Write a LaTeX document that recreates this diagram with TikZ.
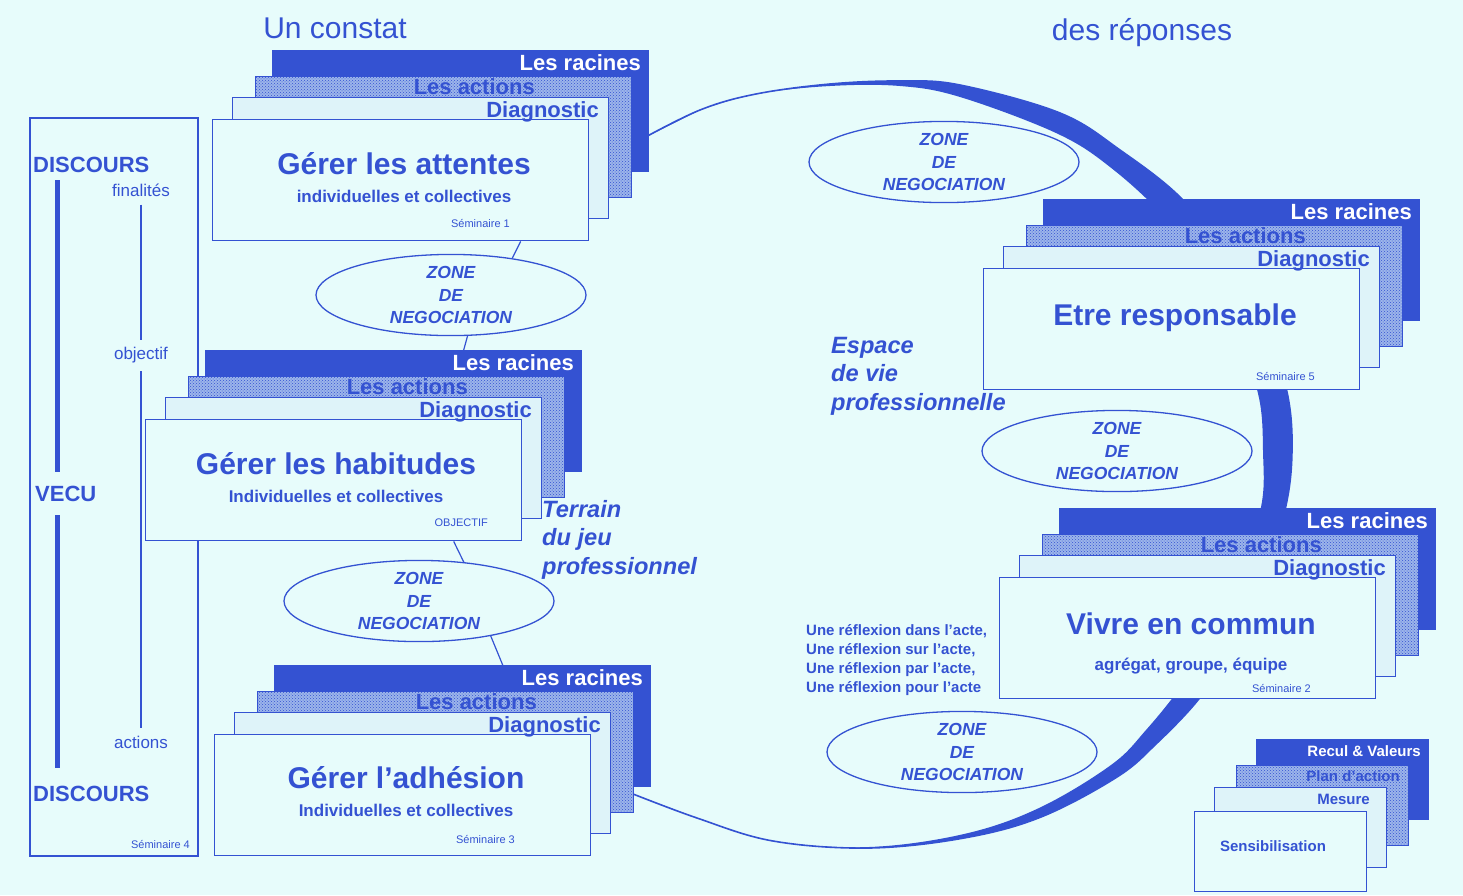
\documentclass[tikz,border=0pt]{standalone}
\usepackage{fontspec}
\setmainfont{Liberation Sans}
\usetikzlibrary{shapes.geometric,patterns}

\definecolor{bleu}{RGB}{52,82,210}
\definecolor{fond}{RGB}{231,252,251}

\begin{document}
\begin{tikzpicture}[x=1pt, y=-1pt,
    every node/.style={text=bleu, inner sep=0pt},
    couche/.style={draw=bleu, line width=1.4pt, anchor=north west, minimum width=376pt, minimum height=121pt},
    petite/.style={minimum width=172pt, minimum height=80pt},
    racine/.style={couche, fill=bleu},
    action/.style={couche, preaction={fill=bleu!42!fond}, pattern=crosshatch dots, pattern color=bleu},
    diag/.style={couche, fill=bleu!5!fond},
    cadre/.style={couche, fill=fond},
    zone/.style={ellipse, draw=bleu, line width=1.3pt, fill=fond, minimum width=270pt, minimum height=76pt, align=center, font=\fontsize{17.5}{22.5}\selectfont\bfseries\itshape},
    couchetxt/.style={anchor=base east, font=\fontsize{22}{24}\selectfont\bfseries},
    petitetxt/.style={anchor=base east, font=\fontsize{15}{17}\selectfont\bfseries},
    titre/.style={anchor=base, font=\fontsize{30}{32}\selectfont\bfseries},
    soustitre/.style={anchor=base, font=\fontsize{17}{19}\selectfont\bfseries},
    seminaire/.style={anchor=base east, font=\fontsize{11}{13}\selectfont},
    gauche/.style={font=\fontsize{17}{19}\selectfont},
    espace/.style={anchor=north west, align=left, font=\fontsize{23.6}{28.5}\selectfont\bfseries\itshape},
    barre/.style={draw=bleu, line width=5pt},
    lien/.style={draw=bleu, line width=1.2pt}]

    \fill[fond] (0,0) rectangle (1463,895);
    \useasboundingbox (0,0) rectangle (1463,895);

    % le grand arc
    \fill[bleu] plot[smooth, tension=0.6] coordinates {(640,140) (700,110) (756,94) (830,84) (900,81) (960,85) (1060,113) (1120,150) (1183,200) (1232,265) (1266,330) (1287,392) (1292,450) (1285,510) (1260,590) (1228,655) (1198,700) (1156,744) (1117,777) (1041,817) (964,838) (869,848) (773,841) (697,818) (628,792)}
      -- plot[smooth, tension=0.6] coordinates {(697,818) (773,841) (869,847) (964,834) (1039,808) (1111,765) (1146,730) (1182,685) (1208,641) (1237,580) (1261,507) (1263,451) (1259,398) (1240,341) (1210,280) (1165,218) (1110,167) (1056,133) (960,97) (900,86) (830,86) (756,94) (700,110)} -- cycle;
    \draw[bleu, line width=1.6pt] plot[smooth, tension=0.6] coordinates {(640,140) (700,110) (756,94) (830,84) (900,81) (960,85) (1060,113) (1120,150) (1183,200) (1232,265) (1266,330) (1287,392) (1292,450) (1285,510) (1260,590) (1228,655) (1198,700) (1156,744) (1117,777) (1041,817) (964,838) (869,848) (773,841) (697,818) (628,792)};

    \node[anchor=base, font=\fontsize{30}{32}\selectfont] (constat) at (335,38) {Un constat};
    \node[anchor=base, font=\fontsize{30}{32}\selectfont] (reponses) at (1142,40) {des réponses};

    % colonne de gauche
    \draw[bleu, line width=1.4pt, fill=fond] (30,118) rectangle (198,856);
    \coordinate (axe) at (57,0);
    \node[anchor=base west, font=\fontsize{22}{24}\selectfont\bfseries] (discoursH) at (33,172) {DISCOURS};
    \node[anchor=base west, font=\fontsize{22}{24}\selectfont\bfseries] (vecu) at (35,501) {VECU};
    \node[anchor=base west, font=\fontsize{22}{24}\selectfont\bfseries] (discoursB) at (33,801) {DISCOURS};
    \node[gauche] (finalites) at (141,190) {finalités};
    \node[gauche] (objectif) at (141,355) {objectif};
    \node[gauche] (actions) at (141,742) {actions};
    \node[seminaire] (sem4) at (190,848) {Séminaire 4};
    \draw[barre, shorten <=8pt, shorten >=13pt] (discoursH.south -| axe) -- (vecu.north -| axe);
    \draw[barre, shorten <=14pt, shorten >=17pt] (vecu.south -| axe) -- (discoursB.north -| axe);
    \draw[lien, shorten <=8pt, shorten >=7pt] (finalites) -- (objectif);
    \draw[lien, shorten <=8pt, shorten >=8pt] (objectif) -- (actions);

    % les piles
    \foreach \nom/\x/\y in {att/212/119, hab/145/419, adh/214/734, res/983/268, viv/999/577}{
      \node[racine] (\nom-r) at (\x+60,\y-69) {};
      \node[couchetxt, text=white] at (\x+429,\y-49) {Les racines};
      \node[action] (\nom-a) at (\x+43,\y-43) {};
      \node[couchetxt] at (\x+323,\y-25) {Les actions};
      \node[diag] (\nom-d) at (\x+20,\y-22) {};
      \node[cadre] (\nom) at (\x,\y) {};
      \node[couchetxt] at (\x+387,\y-2) {Diagnostic};
    }

    \node[titre] at (404,174) {Gérer les attentes};
    \node[soustitre] at (404,202) {individuelles et collectives};
    \node[seminaire] at (510,227) {Séminaire 1};

    \node[titre] at (336,474) {Gérer les habitudes};
    \node[soustitre] at (336,502) {Individuelles et collectives};
    \node[seminaire] at (488,526) {OBJECTIF};

    \node[titre] at (406,788) {Gérer l'adhésion};
    \node[soustitre] at (406,816) {Individuelles et collectives};
    \node[seminaire] at (515,843) {Séminaire 3};

    \node[titre] at (1175,325) {Etre responsable};
    \node[seminaire] at (1315,380) {Séminaire 5};

    \node[titre] at (1191,634) {Vivre en commun};
    \node[soustitre] at (1191,670) {agrégat, groupe, équipe};
    \node[seminaire] at (1311,692) {Séminaire 2};

    % petite pile
    \node[racine, petite] (recul) at (1256,739) {};
    \node[petitetxt, text=white] at (1421,756) {Recul \& Valeurs};
    \node[action, petite] (plan) at (1236,765) {};
    \node[petitetxt] at (1400,781) {Plan d'action};
    \node[diag, petite] (mesure) at (1214,787) {};
    \node[petitetxt] at (1370,804) {Mesure};
    \node[cadre, petite] (sensib) at (1194,811) {};
    \node[font=\fontsize{15}{17}\selectfont\bfseries] at (1273,846) {Sensibilisation};

    % zones de negociation
    \node[zone] (zoneH) at (944,162) {ZONE\\DE\\NEGOCIATION};
    \node[zone] (zoneA) at (451,295) {ZONE\\DE\\NEGOCIATION};
    \node[zone] (zoneB) at (419,601) {ZONE\\DE\\NEGOCIATION};
    \node[zone] (zoneC) at (1117,451) {ZONE\\DE\\NEGOCIATION};
    \node[zone] (zoneD) at (962,752) {ZONE\\DE\\NEGOCIATION};

    \draw[lien] ([xshift=120pt]att.south) -- (zoneA.31);
    \draw[lien] (zoneA.-68) -- ([xshift=70pt]hab-r.north);
    \draw[lien] ([xshift=120pt]hab.south) -- (zoneB.41);
    \draw[lien] (zoneB.-26) -- ([xshift=40pt]adh-r.north);

    \node[espace] (terrain) at (542,500) {Terrain\\du jeu\\professionnel};
    \node[espace] (espacevie) at (831,337) {Espace\\de vie\\professionnelle};
    \node[anchor=north west, align=left, font=\fontsize{15}{19}\selectfont\bfseries] (reflexion) at (806,624) {Une réflexion dans l'acte,\\Une réflexion sur l'acte,\\Une réflexion par l'acte,\\Une réflexion pour l'acte};

\end{tikzpicture}
\end{document}
